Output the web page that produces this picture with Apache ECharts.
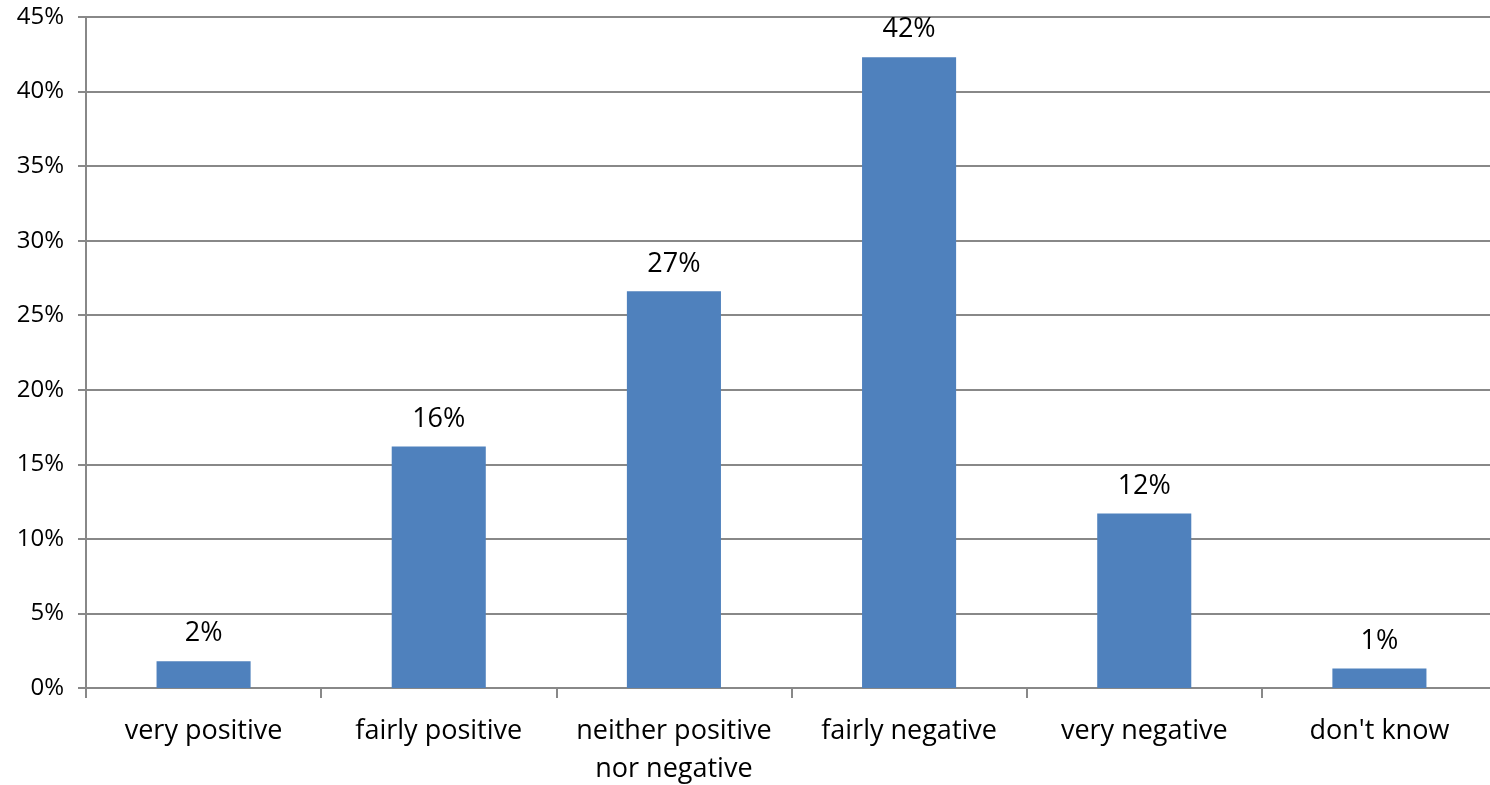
<!DOCTYPE html>
<html>
<head>
<meta charset="utf-8">
<script src="https://cdn.jsdelivr.net/npm/echarts@6/dist/echarts.min.js"></script>
<style>
  html, body { margin: 0; padding: 0; background: #ffffff; overflow: hidden; }
  #chart { width: 1490px; height: 785px; }
</style>
</head>
<body>
<div id="chart"></div>
<script>
// Survey answers and their shares (percent of respondents)
const categories = ['very positive', 'fairly positive', 'neither positive\nnor negative', 'fairly negative', 'very negative', "don't know"];
const shares = [1.8, 16.2, 26.6, 42.3, 11.7, 1.3];
const yTicks = { min: 0, max: 45, step: 5 };

const FONT = '"Open Sans", "Noto Sans", sans-serif';
const GRID_GREY = '#888888';

const chart = echarts.init(document.getElementById('chart'), null, { renderer: 'canvas' });
chart.setOption({
  animation: false,
  backgroundColor: '#ffffff',
  grid: { left: 86, right: -7, top: 17, bottom: 97, containLabel: false, outerBoundsMode: 'none' },
  xAxis: {
    type: 'category',
    data: categories,
    axisLine: { show: true, lineStyle: { color: GRID_GREY, width: 2 } },
    axisTick: { show: true, alignWithLabel: false, length: 10, lineStyle: { color: GRID_GREY, width: 2 } },
    axisLabel: {
      color: '#000000', fontFamily: FONT, fontSize: 27, margin: 24,
      lineHeight: 38, interval: 0
    },
    splitLine: { show: false }
  },
  yAxis: {
    type: 'value',
    min: yTicks.min,
    max: yTicks.max,
    interval: yTicks.step,
    axisLine: { show: true, lineStyle: { color: GRID_GREY, width: 2 } },
    axisTick: { show: true, length: 8, inside: false, lineStyle: { color: GRID_GREY, width: 2 } },
    axisLabel: {
      color: '#000000', fontFamily: FONT, fontSize: 24, margin: 22,
      formatter: v => v + '%'
    },
    splitLine: { show: true, lineStyle: { color: GRID_GREY, width: 2 } }
  },
  series: [{
    type: 'bar',
    data: shares,
    barCategoryGap: '60%',
    itemStyle: { color: '#4F81BD' },
    label: {
      show: true,
      position: 'top',
      distance: 14,
      color: '#000000',
      fontFamily: FONT,
      fontSize: 27,
      formatter: p => Math.round(p.value) + '%'
    }
  }]
});
</script>
</body>
</html>
